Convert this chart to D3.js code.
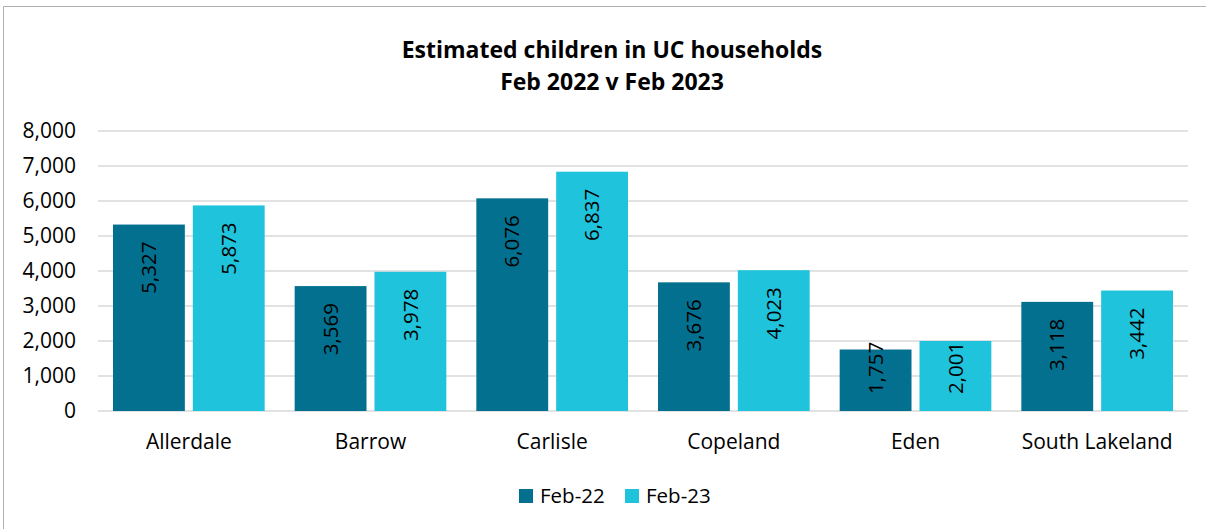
<!DOCTYPE html>
<html>
<head>
<meta charset="utf-8">
<script src="https://cdn.jsdelivr.net/npm/d3@7"></script>
<style>
  html, body { margin: 0; padding: 0; background: #fff; }
  svg { display: block; font-family: "Open Sans", "Noto Sans", sans-serif; }
</style>
</head>
<body>
<svg id="chart" width="1206" height="529"></svg>
<script>
// Estimated children in Universal Credit households by district
const districts = ["Allerdale", "Barrow", "Carlisle", "Copeland", "Eden", "South Lakeland"];
const seriesNames = ["Feb-22", "Feb-23"];
const feb22 = [5327, 3569, 6076, 3676, 1757, 3118];
const feb23 = [5873, 3978, 6837, 4023, 2001, 3442];
const yTicks = [0, 1000, 2000, 3000, 4000, 5000, 6000, 7000, 8000];
const titleLines = ["Estimated children in UC households", "Feb 2022 v Feb 2023"];

const colors = { "Feb-22": "#04708f", "Feb-23": "#1fc3dc" };
const rows = districts.map((d, i) => ({ district: d, "Feb-22": feb22[i], "Feb-23": feb23[i] }));

const svg = d3.select("#chart");
const fmt = d3.format(",");
const fontSize = 20.5;

// Chart frame (left and top edges)
svg.append("path")
  .attr("d", "M3.5,540 V6.5 H1215")
  .attr("fill", "none")
  .attr("stroke", "#b0b0b0")
  .attr("stroke-width", 1);

// Title
const title = svg.append("text")
  .attr("text-anchor", "middle")
  .attr("font-weight", "bold")
  .attr("font-size", 23)
  .attr("fill", "#000");
titleLines.forEach((t, i) => {
  title.append("tspan").attr("x", 612).attr("y", 58 + i * 32).text(t);
});

const plot = { left: 98, right: 1188, top: 131, bottom: 411 };

const x0 = d3.scaleBand().domain(districts).range([plot.left, plot.right]).padding(0);
const outer = 15;
const x1 = d3.scaleBand().domain(seriesNames)
  .range([outer, x0.bandwidth() - outer]).paddingInner(0.1).paddingOuter(0);
const y = d3.scaleLinear().domain([0, 8000]).range([plot.bottom, plot.top]);

// Gridlines
svg.append("g")
  .selectAll("line")
  .data(yTicks)
  .join("line")
  .attr("x1", plot.left).attr("x2", plot.right)
  .attr("y1", d => y(d)).attr("y2", d => y(d))
  .attr("stroke", "#d9d9d9")
  .attr("stroke-width", 1.5);

// Y axis labels
const yAxis = svg.append("g")
  .attr("transform", `translate(${plot.left - 22},0)`)
  .call(d3.axisLeft(y).tickValues(yTicks).tickFormat(fmt).tickSize(0).tickPadding(0));
yAxis.select(".domain").remove();
yAxis.selectAll("text")
  .attr("font-family", "'Open Sans', 'Noto Sans', sans-serif")
  .attr("font-size", 21)
  .attr("fill", "#000");

// Bars
const groups = svg.append("g")
  .selectAll("g")
  .data(rows)
  .join("g")
  .attr("transform", d => `translate(${x0(d.district)},0)`);

groups.selectAll("rect")
  .data(d => seriesNames.map(s => ({ s, v: d[s] })))
  .join("rect")
  .attr("x", d => x1(d.s))
  .attr("width", x1.bandwidth())
  .attr("y", d => y(d.v))
  .attr("height", d => y(0) - y(d.v))
  .attr("fill", d => colors[d.s]);

// Rotated value labels, inside the top of each bar
groups.selectAll("text.val")
  .data(d => seriesNames.map(s => ({ s, v: d[s] })))
  .join("text")
  .attr("class", "val")
  .attr("font-size", fontSize)
  .attr("fill", "#000")
  .attr("text-anchor", "end")
  .attr("dy", "0.35em")
  .text(d => fmt(d.v))
  .each(function (d) {
    const len = this.getComputedTextLength();
    const cx = x1(d.s) + x1.bandwidth() / 2;
    let endY = y(d.v) + 17;
    if (endY + len > y(0) - 17) endY = y(0) - 17 - len;
    d3.select(this).attr("transform", `translate(${cx},${endY}) rotate(-90)`);
  });

// Category axis labels
svg.append("g")
  .selectAll("text")
  .data(districts)
  .join("text")
  .attr("x", d => x0(d) + x0.bandwidth() / 2)
  .attr("y", 449)
  .attr("text-anchor", "middle")
  .attr("font-size", 21)
  .attr("fill", "#000")
  .text(d => d);

// Legend
const legendX = [519, 625];
const legend = svg.append("g")
  .selectAll("g")
  .data(seriesNames)
  .join("g")
  .attr("transform", (d, i) => `translate(${legendX[i]},489)`);
legend.append("rect")
  .attr("width", 14).attr("height", 14)
  .attr("fill", d => colors[d]);
legend.append("text")
  .attr("x", 21).attr("y", 13.5)
  .attr("font-size", fontSize)
  .attr("fill", "#000")
  .text(d => d);
</script>
</body>
</html>
